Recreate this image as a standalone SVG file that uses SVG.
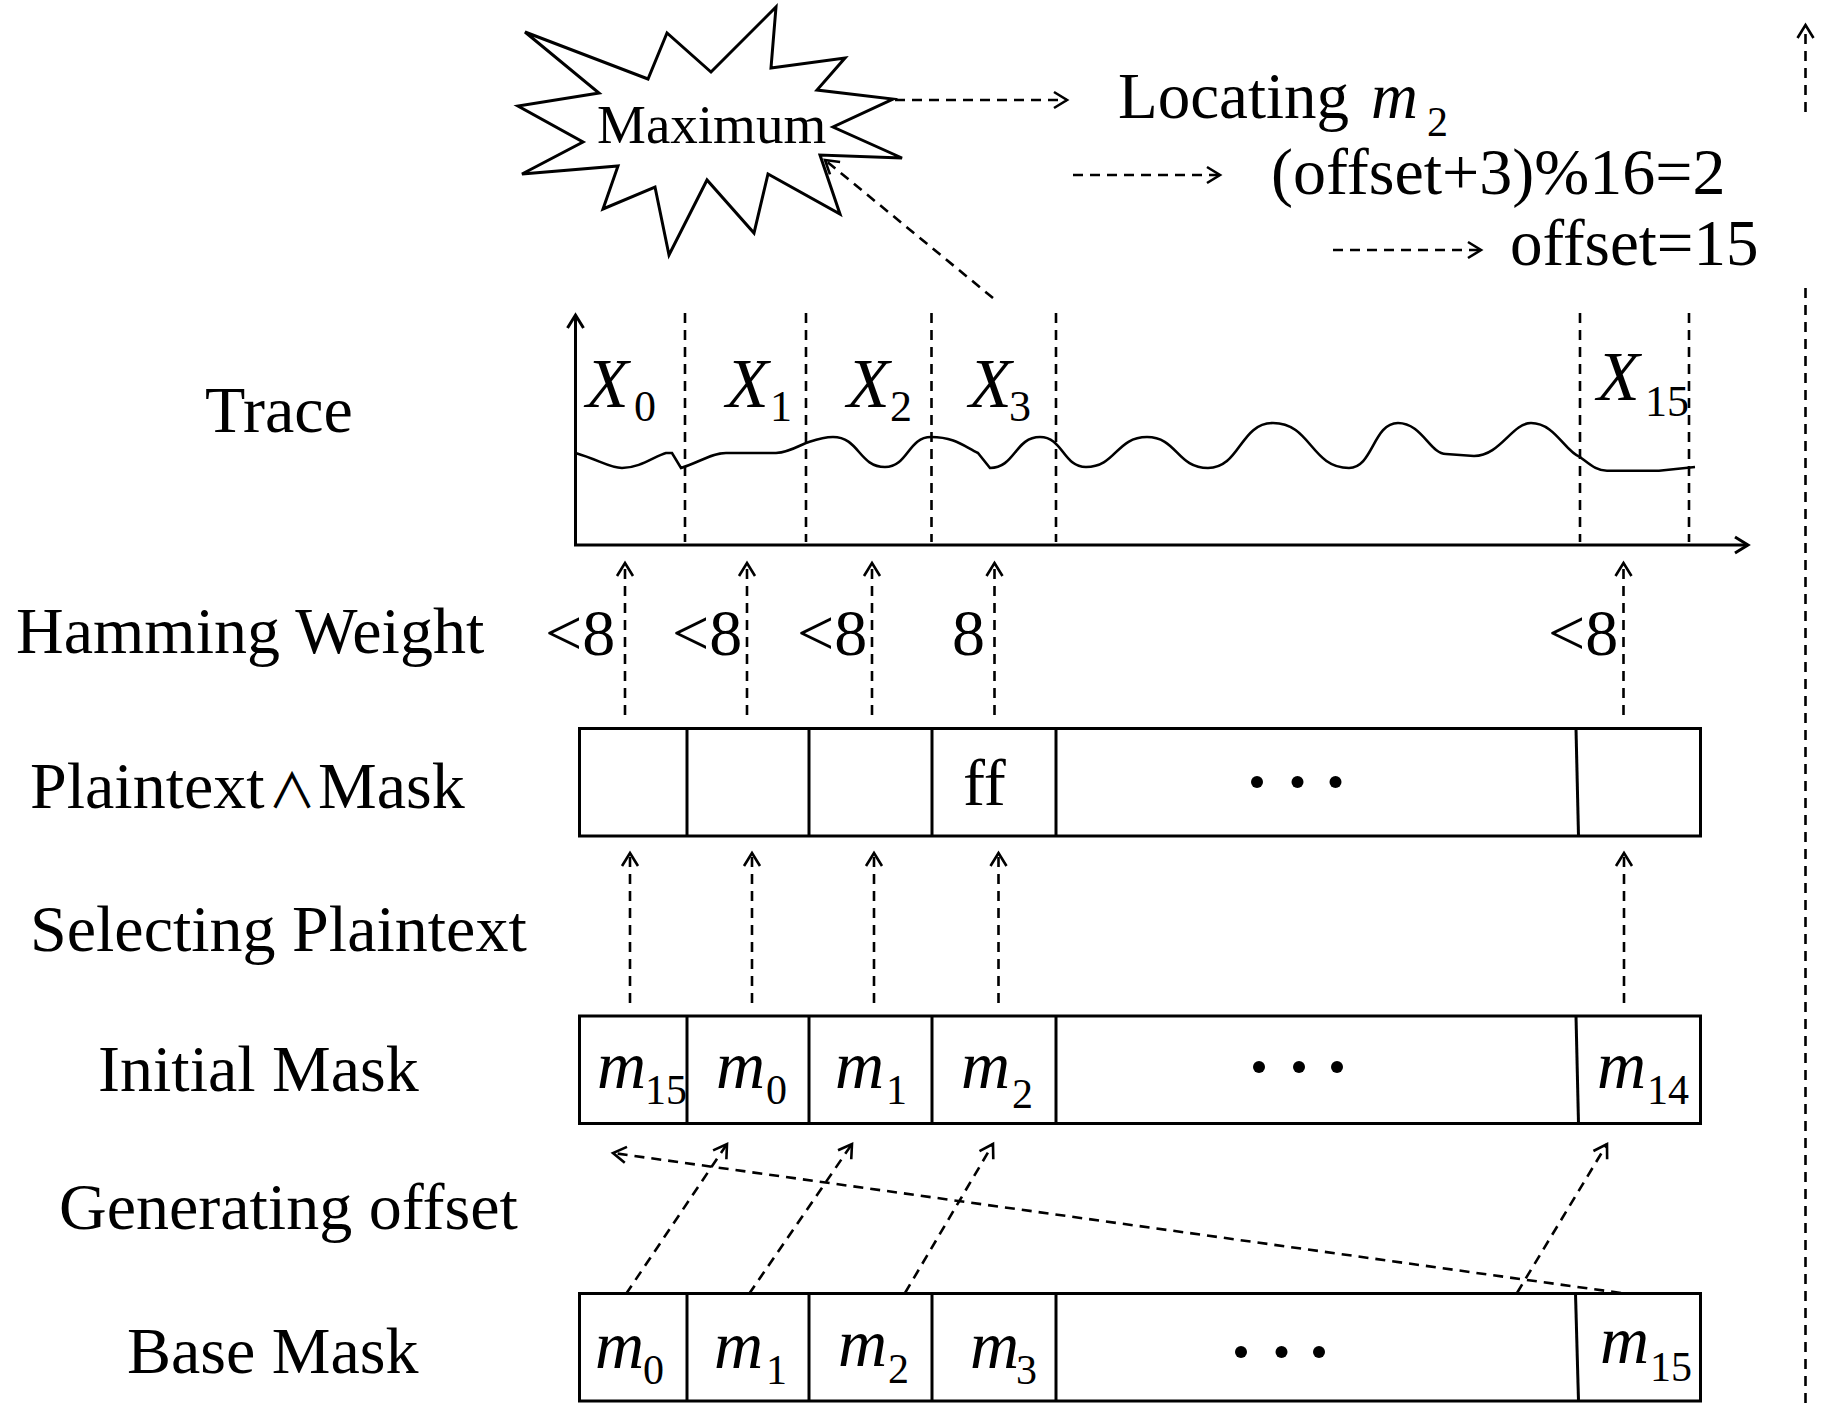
<svg xmlns="http://www.w3.org/2000/svg" width="1843" height="1417" viewBox="0 0 1843 1417">
<style>
.t{font-family:"Liberation Serif","Times New Roman",serif;font-size:66px;fill:#000}
.i{font-family:"Liberation Serif","Times New Roman",serif;font-style:italic;fill:#000}
.s{font-family:"Liberation Serif","Times New Roman",serif;fill:#000}
.box{fill:none;stroke:#000;stroke-width:3}
.solid{fill:none;stroke:#000;stroke-width:3}
.dash{fill:none;stroke:#000;stroke-width:2.6;stroke-dasharray:10 7}
.arr{fill:none;stroke:#000;stroke-width:2.6;stroke-dasharray:10 7;marker-end:url(#ah)}
</style>
<defs>
<marker id="ah" viewBox="-16 -10 20 20" refX="0" refY="0" markerWidth="20" markerHeight="20" markerUnits="userSpaceOnUse" orient="auto">
<path d="M-13,-8 L0,0 L-13,8" fill="none" stroke="#000" stroke-width="2.6"/>
</marker>
<marker id="ahs" viewBox="-16 -10 20 20" refX="0" refY="0" markerWidth="20" markerHeight="20" markerUnits="userSpaceOnUse" orient="auto">
<path d="M-13,-8 L0,0 L-13,8" fill="none" stroke="#000" stroke-width="3"/>
</marker>
</defs>
<rect width="1843" height="1417" fill="#fff"/>

<g id="row-labels">
<text class="t" x="205" y="432">Trace</text>
<text class="t" x="16" y="653">Hamming Weight</text>
<text class="t" x="30" y="808">Plaintext<tspan x="268" font-family="'Noto Sans CJK SC','DejaVu Serif',serif" font-size="48">∧</tspan><tspan x="318">Mask</tspan></text>
<text class="t" x="30" y="951">Selecting Plaintext</text>
<text class="t" x="98" y="1091">Initial Mask</text>
<text class="t" x="59" y="1229">Generating offset</text>
<text class="t" x="127" y="1373">Base Mask</text>
</g>

<g id="maximum">
<polygon class="solid" points="525,32 648,79 667,33 711,72 776,7 771,68 845,58 817,90 893,99 833,127 902,158 820,155 840,214 768,174 754,233 707,180 669,255 655,187 603,209 618,166 522,174 583,142 518,106 599,93"/>
<text class="s" x="597" y="143" font-size="55">Maximum</text>
</g>

<g id="locating">
<text class="s" x="1118" y="118" font-size="65">Locating <tspan x="1371" font-style="italic">m</tspan><tspan x="1427" y="136" font-size="42">2</tspan></text>
</g>
<g id="equation">
<text class="s" x="1271" y="194" font-size="66">(offset+3)%16=2</text>
</g>
<g id="offset-result">
<text class="s" x="1510" y="265" font-size="65">offset=15</text>
</g>

<g id="trace">
<line class="solid" x1="575.5" y1="546" x2="575.5" y2="315" marker-end="url(#ahs)"/>
<line class="solid" x1="574" y1="545" x2="1748" y2="545" marker-end="url(#ahs)"/>
<line class="dash" x1="685" y1="313" x2="685" y2="542"/>
<line class="dash" x1="806" y1="313" x2="806" y2="542"/>
<line class="dash" x1="931.5" y1="313" x2="931.5" y2="542"/>
<line class="dash" x1="1056" y1="313" x2="1056" y2="542"/>
<line class="dash" x1="1580" y1="313" x2="1580" y2="542"/>
<line class="dash" x1="1689" y1="313" x2="1689" y2="542"/>
<path fill="none" stroke="#000" stroke-width="2.6" d="M575.6,453 C599,460 610,468 622,468 C640,468 655,456 666,453 L672,453 L681,468 C700,462 712,453 726,453 L776,453 C790,452 798,446 806,443 C815,440 822,437 833,437 C859,437 859,467 885,467 C908,467 908,437 931,437 C955,437 965,447 978,453 L990,468 C1015,468 1015,437 1040,437 C1063,437 1063,467 1086,467 C1116,467 1116,437 1147,437 C1177,437 1177,468 1208,468 C1240,468 1240,423 1273,423 C1311,423 1311,468 1349,468 C1373,468 1373,423 1398,423 C1422,423 1430,454 1446,454 L1474,456 C1500,456 1512,423 1531,423 C1555,423 1565,452 1580,457 C1592,466 1597,470.7 1607,470.7 L1659,470.7 L1695,467"/>
<text class="i" x="586" y="407" font-size="70">X</text><text class="s" x="634" y="421" font-size="44">0</text>
<text class="i" x="726" y="407" font-size="70">X</text><text class="s" x="770" y="421" font-size="44">1</text>
<text class="i" x="847" y="407" font-size="70">X</text><text class="s" x="890" y="421" font-size="44">2</text>
<text class="i" x="969" y="407" font-size="70">X</text><text class="s" x="1009" y="421" font-size="44">3</text>
<text class="i" x="1597" y="400" font-size="70">X</text><text class="s" x="1645" y="416" font-size="44">15</text>
</g>

<g id="hamming-values">
<text class="s" x="545" y="655" font-size="66">&lt;8</text>
<text class="s" x="672" y="655" font-size="66">&lt;8</text>
<text class="s" x="797" y="655" font-size="66">&lt;8</text>
<text class="s" x="952" y="655" font-size="66">8</text>
<text class="s" x="1548" y="655" font-size="66">&lt;8</text>
</g>

<g id="plaintext-mask">
<rect class="box" x="579.5" y="728.5" width="1121" height="107.5"/>
<line class="box" x1="687" y1="728.5" x2="687" y2="836"/>
<line class="box" x1="809" y1="728.5" x2="809" y2="836"/>
<line class="box" x1="932" y1="728.5" x2="932" y2="836"/>
<line class="box" x1="1056" y1="728.5" x2="1056" y2="836"/>
<line class="box" x1="1576" y1="728.5" x2="1578.5" y2="836"/>
<text class="s" x="963" y="805" font-size="66">ff</text>
<circle cx="1257" cy="782" r="6"/><circle cx="1297.5" cy="782" r="6"/><circle cx="1335.5" cy="782" r="6"/>
</g>

<g id="initial-mask">
<rect class="box" x="579.5" y="1016" width="1121" height="107.5"/>
<line class="box" x1="687" y1="1016" x2="687" y2="1123.5"/>
<line class="box" x1="809" y1="1016" x2="809" y2="1123.5"/>
<line class="box" x1="932" y1="1016" x2="932" y2="1123.5"/>
<line class="box" x1="1056" y1="1016" x2="1056" y2="1123.5"/>
<line class="box" x1="1576" y1="1016" x2="1578.5" y2="1123.5"/>
<text class="i" x="597" y="1088" font-size="68">m</text><text class="s" x="645" y="1104" font-size="42">15</text>
<text class="i" x="716" y="1088" font-size="68">m</text><text class="s" x="766" y="1104" font-size="42">0</text>
<text class="i" x="835" y="1088" font-size="68">m</text><text class="s" x="886" y="1104" font-size="42">1</text>
<text class="i" x="961" y="1088" font-size="68">m</text><text class="s" x="1012" y="1108" font-size="42">2</text>
<circle cx="1259" cy="1067" r="6"/><circle cx="1299" cy="1067" r="6"/><circle cx="1337" cy="1067" r="6"/>
<text class="i" x="1597" y="1088" font-size="68">m</text><text class="s" x="1647" y="1104" font-size="42">14</text>
</g>

<g id="base-mask">
<rect class="box" x="579.5" y="1293.5" width="1121" height="107.5"/>
<line class="box" x1="687" y1="1293.5" x2="687" y2="1401"/>
<line class="box" x1="809" y1="1293.5" x2="809" y2="1401"/>
<line class="box" x1="932" y1="1293.5" x2="932" y2="1401"/>
<line class="box" x1="1056" y1="1293.5" x2="1056" y2="1401"/>
<line class="box" x1="1575.5" y1="1293.5" x2="1578.5" y2="1401"/>
<text class="i" x="595" y="1368" font-size="68">m</text><text class="s" x="643" y="1384" font-size="42">0</text>
<text class="i" x="714" y="1368" font-size="68">m</text><text class="s" x="766" y="1384" font-size="42">1</text>
<text class="i" x="838" y="1366" font-size="68">m</text><text class="s" x="888" y="1383" font-size="42">2</text>
<text class="i" x="970" y="1368" font-size="68">m</text><text class="s" x="1016" y="1384" font-size="42">3</text>
<circle cx="1241" cy="1352" r="6"/><circle cx="1281.5" cy="1352" r="6"/><circle cx="1319" cy="1352" r="6"/>
<text class="i" x="1600" y="1363" font-size="68">m</text><text class="s" x="1650" y="1381" font-size="42">15</text>
</g>

<g id="connectors">
<line class="arr" x1="895" y1="100" x2="1067" y2="100"/>
<line class="arr" x1="1073" y1="175" x2="1220" y2="175"/>
<line class="arr" x1="1333" y1="250" x2="1481" y2="250"/>
<line class="arr" x1="993" y1="298" x2="825" y2="160"/>
<line class="arr" x1="1805.5" y1="112" x2="1805.5" y2="25"/>
<line class="dash" x1="1805.5" y1="288" x2="1805.5" y2="1405"/>

<line class="arr" x1="625" y1="715" x2="625" y2="563"/>
<line class="arr" x1="747" y1="715" x2="747" y2="563"/>
<line class="arr" x1="872" y1="715" x2="872" y2="563"/>
<line class="arr" x1="994.5" y1="715" x2="994.5" y2="563"/>
<line class="arr" x1="1623.5" y1="715" x2="1623.5" y2="563"/>

<line class="arr" x1="630" y1="1003" x2="630" y2="853"/>
<line class="arr" x1="752" y1="1003" x2="752" y2="853"/>
<line class="arr" x1="874" y1="1003" x2="874" y2="853"/>
<line class="arr" x1="998.5" y1="1003" x2="998.5" y2="853"/>
<line class="arr" x1="1624" y1="1003" x2="1624" y2="853"/>

<line class="arr" x1="626" y1="1294" x2="727" y2="1144"/>
<line class="arr" x1="749" y1="1294" x2="852" y2="1144"/>
<line class="arr" x1="905" y1="1293" x2="993" y2="1144"/>
<line class="arr" x1="1517" y1="1293" x2="1607" y2="1144"/>
<line class="arr" x1="1621" y1="1293" x2="613" y2="1153"/>
</g>
</svg>
